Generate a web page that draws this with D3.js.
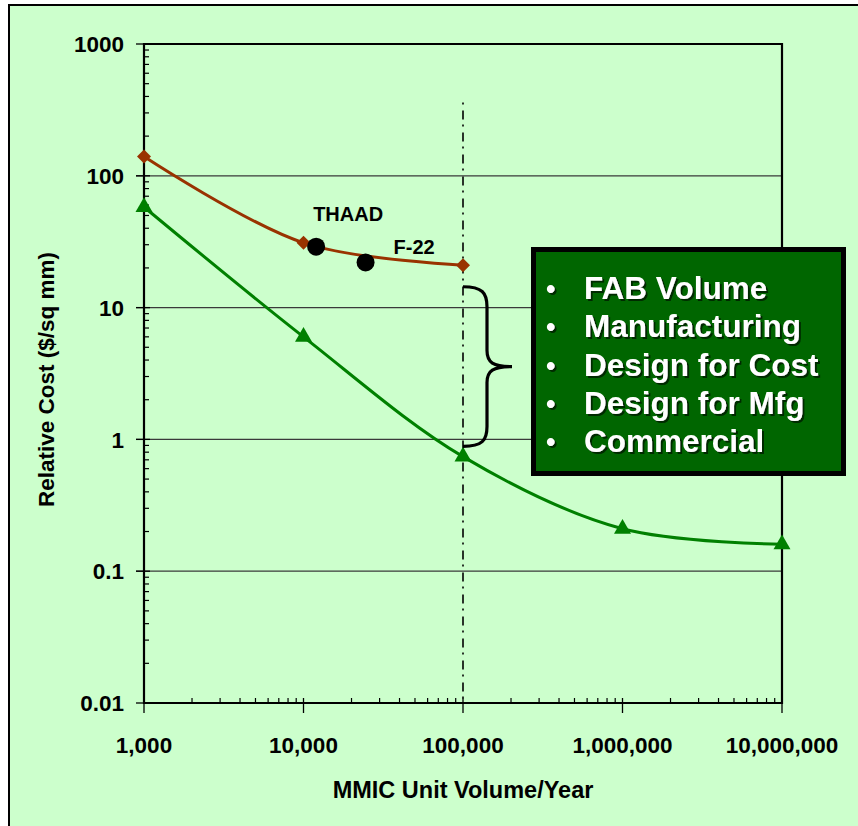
<!DOCTYPE html>
<html>
<head>
<meta charset="utf-8">
<script src="https://cdn.jsdelivr.net/npm/d3@7"></script>
<style>
  html, body { margin: 0; padding: 0; background: #ffffff; }
  svg { display: block; }
  text { font-family: "Liberation Sans", Arial, sans-serif; font-weight: bold; }
</style>
</head>
<body>
<svg id="chart" width="858" height="826"></svg>
<script>
// ---- data ----
const xTickValues = [1000, 10000, 100000, 1000000, 10000000];
const xTickLabels = ["1,000", "10,000", "100,000", "1,000,000", "10,000,000"];
const yTickValues = [1000, 100, 10, 1, 0.1, 0.01];
const yTickLabels = ["1000", "100", "10", "1", "0.1", "0.01"];

const fabVolumes = [1000, 10000, 100000];
const fabCost = [140, 31, 21];

const commercialVolumes = [1000, 10000, 100000, 1000000, 10000000];
const commercialCost = [58, 6, 0.74, 0.21, 0.16];

const programNames = ["THAAD", "F-22"];
const programVolumes = [12000, 24500];
const programCost = [29, 22];

const factors = ["FAB Volume", "Manufacturing", "Design for Cost", "Design for Mfg", "Commercial"];

const xTitle = "MMIC Unit Volume/Year";
const yTitle = "Relative Cost ($/sq mm)";

// ---- layout ----
const svg = d3.select("#chart");
const L = 144, T = 44, R = 782, B = 703;

const defs = svg.append("defs");
const f = defs.append("filter").attr("id", "shadow").attr("x", "-5%").attr("y", "-20%")
  .attr("width", "115%").attr("height", "150%");
f.append("feDropShadow").attr("dx", 2).attr("dy", 2).attr("stdDeviation", 0.6)
  .attr("flood-color", "#002200").attr("flood-opacity", 0.9);

// background with border
svg.append("rect").attr("x", 9).attr("y", 5).attr("width", 900).attr("height", 900)
  .attr("fill", "#ccffcc").attr("stroke", "#000").attr("stroke-width", 2);

const x = d3.scaleLog().domain([1000, 10000000]).range([L, R]);
const y = d3.scaleLog().domain([0.01, 1000]).range([B, T]);

// gridlines
svg.append("g").selectAll("line").data(yTickValues.filter(v => v < 1000 && v > 0.01)).join("line")
  .attr("x1", L - 8).attr("x2", R).attr("y1", d => y(d)).attr("y2", d => y(d))
  .attr("stroke", "#3a3a3a").attr("stroke-width", 1.2);

// minor ticks
const minors = [];
for (let e = -2; e < 3; e++) for (let m = 2; m <= 9; m++) minors.push(m * Math.pow(10, e));
svg.append("g").selectAll("line").data(minors).join("line")
  .attr("x1", L).attr("x2", L + 5).attr("y1", d => y(d)).attr("y2", d => y(d))
  .attr("stroke", "#000").attr("stroke-width", 1.2);
const xMinors = [];
for (let e = 3; e < 7; e++) for (let m = 2; m <= 9; m++) xMinors.push(m * Math.pow(10, e));
svg.append("g").selectAll("line").data(xMinors).join("line")
  .attr("x1", d => x(d)).attr("x2", d => x(d)).attr("y1", B).attr("y2", B - 5)
  .attr("stroke", "#000").attr("stroke-width", 1.2);

// major ticks
svg.append("g").selectAll("line").data(yTickValues).join("line")
  .attr("x1", L - 8).attr("x2", L + 6).attr("y1", d => y(d)).attr("y2", d => y(d))
  .attr("stroke", "#000").attr("stroke-width", 1.3);
svg.append("g").selectAll("line").data(xTickValues).join("line")
  .attr("x1", d => x(d)).attr("x2", d => x(d)).attr("y1", B - 5).attr("y2", B + 10)
  .attr("stroke", "#000").attr("stroke-width", 1.3);

// frame
svg.append("path")
  .attr("d", `M${L},${B} L${L},${T} L${R},${T} L${R},${B} Z`)
  .attr("fill", "none").attr("stroke", "#000").attr("stroke-width", 2.2);

// tick labels
svg.append("g").selectAll("text").data(yTickValues).join("text")
  .attr("x", L - 20).attr("y", d => y(d)).attr("dy", "0.36em")
  .attr("text-anchor", "end").attr("font-size", 22.5)
  .text((d, i) => yTickLabels[i]);
svg.append("g").selectAll("text").data(xTickValues).join("text")
  .attr("x", d => x(d)).attr("y", 753)
  .attr("text-anchor", "middle").attr("font-size", 22.5)
  .text((d, i) => xTickLabels[i]);

// axis titles
svg.append("text").attr("x", (L + R) / 2).attr("y", 798).attr("text-anchor", "middle")
  .attr("font-size", 23.5).text(xTitle);
svg.append("text").attr("transform", `translate(54,${(T + B) / 2 + 6}) rotate(-90)`)
  .attr("text-anchor", "middle").attr("font-size", 22.5).text(yTitle);

// vertical dash-dot line at 100,000
svg.append("line").attr("x1", x(100000)).attr("x2", x(100000))
  .attr("y1", y(360)).attr("y2", B)
  .attr("stroke", "#000").attr("stroke-width", 1.6)
  .attr("stroke-dasharray", "2,6,9,5");

// lines
const line = d3.line().x(d => x(d[0])).y(d => y(d[1])).curve(d3.curveCatmullRom.alpha(0.5));
const fabData = fabVolumes.map((v, i) => [v, fabCost[i]]);
const comData = commercialVolumes.map((v, i) => [v, commercialCost[i]]);

svg.append("path").datum(fabData).attr("d", line)
  .attr("fill", "none").attr("stroke", "#993300").attr("stroke-width", 3);
svg.append("path").datum(comData).attr("d", line)
  .attr("fill", "none").attr("stroke", "#008000").attr("stroke-width", 3);

// markers
svg.append("g").selectAll("path").data(fabData).join("path")
  .attr("d", d3.symbol().type(d3.symbolSquare).size(98))
  .attr("transform", d => `translate(${x(d[0])},${y(d[1])}) rotate(45)`)
  .attr("fill", "#993300");
svg.append("g").selectAll("path").data(comData).join("path")
  .attr("d", d3.symbol().type(d3.symbolTriangle).size(125))
  .attr("transform", d => `translate(${x(d[0])},${y(d[1])})`)
  .attr("fill", "#008000");

// program dots
svg.append("g").selectAll("circle").data(programVolumes).join("circle")
  .attr("cx", d => x(d)).attr("cy", (d, i) => y(programCost[i])).attr("r", 9)
  .attr("fill", "#000");
svg.append("text").attr("x", x(programVolumes[0]) - 3).attr("y", 221)
  .attr("font-size", 20).text(programNames[0]);
svg.append("text").attr("x", x(programVolumes[1]) + 28).attr("y", 254)
  .attr("font-size", 20).text(programNames[1]);

// brace
const bx = x(100000), bTop = y(14.4), bBot = y(0.885), bMid = (bTop + bBot) / 2;
const bw = 24, tip = 49;
svg.append("path")
  .attr("d", `M${bx},${bTop} C${bx + bw * 0.8},${bTop} ${bx + bw},${bTop + 6} ${bx + bw},${bTop + 20}
    L${bx + bw},${bMid - 16} C${bx + bw},${bMid - 4} ${bx + bw + 6},${bMid} ${bx + tip},${bMid}
    C${bx + bw + 6},${bMid} ${bx + bw},${bMid + 4} ${bx + bw},${bMid + 16}
    L${bx + bw},${bBot - 20} C${bx + bw},${bBot - 6} ${bx + bw * 0.8},${bBot} ${bx},${bBot}`)
  .attr("fill", "none").attr("stroke", "#000").attr("stroke-width", 3.2);

// factor box
const box = svg.append("g");
box.append("rect").attr("x", 533.5).attr("y", 249.5).attr("width", 310).attr("height", 224)
  .attr("fill", "#006600").attr("stroke", "#000").attr("stroke-width", 5);
const lineY = i => 299 + i * 38.3;
factors.forEach((t, i) => {
  box.append("text").attr("x", 546).attr("y", lineY(i) - 1).attr("font-size", 27)
    .attr("fill", "#fff").attr("filter", "url(#shadow)").text("\u2022");
  box.append("text").attr("x", 584).attr("y", lineY(i)).attr("font-size", 31.5)
    .attr("fill", "#fff").attr("filter", "url(#shadow)").text(t);
});
</script>
</body>
</html>
